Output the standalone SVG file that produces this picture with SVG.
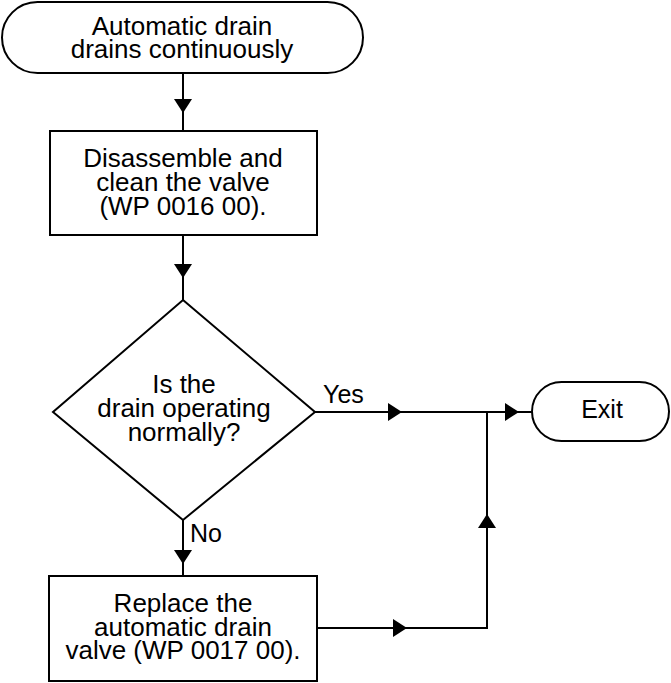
<svg xmlns="http://www.w3.org/2000/svg" width="671" height="683" viewBox="0 0 671 683">
  <style>
    .shape { fill: #ffffff; stroke: #000000; stroke-width: 2; }
    .line { fill: none; stroke: #000000; stroke-width: 2; }
    .head { fill: #000000; stroke: none; }
    text { font-family: "Liberation Sans", Arial, sans-serif; font-size: 26px; fill: #000000; }
    .c { text-anchor: middle; }
  </style>

  <!-- connectors -->
  <g id="connectors">
    <line class="line" x1="183" y1="73" x2="183" y2="131"/>
    <polygon class="head" points="174,99 192,99 183,113"/>

    <line class="line" x1="183" y1="235" x2="183" y2="300"/>
    <polygon class="head" points="174,264 192,264 183,278"/>

    <line class="line" x1="183" y1="520" x2="183" y2="576"/>
    <polygon class="head" points="174,550 192,550 183,564"/>
    <text x="190" y="542" style="font-size:25px">No</text>

    <line class="line" x1="315" y1="412" x2="532" y2="412"/>
    <polygon class="head" points="388,403 388,421 402,412"/>
    <polygon class="head" points="505,403 505,421 519,412"/>
    <text x="323" y="403" style="font-size:25px">Yes</text>

    <polyline class="line" points="317,628 487,628 487,412"/>
    <polygon class="head" points="393,619 393,637 407,628"/>
    <polygon class="head" points="478,528 496,528 487,514"/>
  </g>

  <!-- start terminal -->
  <g id="start">
    <rect class="shape" x="2" y="2" width="361" height="71" rx="35.5" ry="35.5"/>
    <text class="c" x="182" y="35">Automatic drain</text>
    <text class="c" x="182" y="58">drains continuously</text>
  </g>

  <!-- clean step -->
  <g id="clean">
    <rect class="shape" x="50" y="131" width="267" height="104"/>
    <text class="c" x="183" y="167">Disassemble and</text>
    <text class="c" x="183" y="191">clean the valve</text>
    <text class="c" x="183" y="215">(WP 0016 00).</text>
  </g>

  <!-- decision -->
  <g id="decision">
    <polygon class="shape" points="183,300 315,412 183,520 53,412"/>
    <text class="c" x="184" y="393">Is the</text>
    <text class="c" x="184" y="417">drain operating</text>
    <text class="c" x="184" y="441">normally?</text>
  </g>

  <!-- replace step -->
  <g id="replace">
    <rect class="shape" x="49" y="576" width="268" height="105"/>
    <text class="c" x="183" y="612">Replace the</text>
    <text class="c" x="183" y="636">automatic drain</text>
    <text class="c" x="183" y="659">valve (WP 0017 00).</text>
  </g>

  <!-- exit terminal -->
  <g id="exit">
    <rect class="shape" x="532" y="382" width="137" height="59" rx="29.5" ry="29.5"/>
    <text class="c" x="602" y="418" style="font-size:25px">Exit</text>
  </g>
</svg>
